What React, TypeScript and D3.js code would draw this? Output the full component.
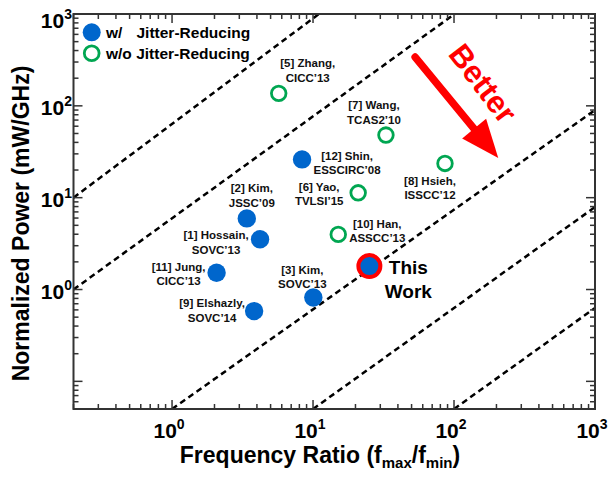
import React from 'react';
import * as d3 from 'd3';

// ---------- data ----------
const refNames = ['[1] Hossain,', '[2] Kim,', '[3] Kim,', '[5] Zhang,', '[6] Yao,', '[7] Wang,', '[8] Hsieh,', '[9] Elshazly,', '[10] Han,', '[11] Jung,', '[12] Shin,', 'This'];
const venues = ['SOVC’13', 'JSSC’09', 'SOVC’13', 'CICC’13', 'TVLSI’15', 'TCAS2’10', 'ISSCC’12', 'SOVC’14', 'ASSCC’13', 'CICC’13', 'ESSCIRC’08', 'Work'];
const freqRatio = [4.21, 3.39, 10.05, 5.71, 20.9, 32.9, 86.3, 3.82, 15.1, 2.07, 8.36, 25.1];
const normPower = [3.52, 5.95, 0.82, 136.8, 11.3, 48.1, 23.6, 0.582, 3.98, 1.52, 26.1, 1.8];
const jitterReducing = [true, true, true, false, false, false, false, true, false, true, true, true];
const isThisWork = [false, false, false, false, false, false, false, false, false, false, false, true];

// label placement offsets (px, relative to marker)
const labelDx = [-44, 5, -11, 29, -39, -12, -15, -42, 39, -38, 45, 39];
const labelDy = [-4, -30, -28, -30, -6, -30, 17, -8, -11, -6, -4, 1];

// FoM guide lines: [x1, y1, x2, y2] in data units
const guideLines = [
  [0.2, 10, 11, 1000],
  [0.2, 1, 101, 1000],
  [1, 0.05, 1000, 90],
  [10, 0.05, 1000, 7.9],
  [100, 0.05, 1000, 0.63],
];

const xDomain = [0.2, 1000];
const yDomain = [0.05, 1000];
const xTickLabels = [1, 10, 100, 1000];
const yTickLabels = [1, 10, 100, 1000];

const legendLabels = ['w/', 'w/o Jitter-Reducing'];
const arrowFrom = [53, 340];
const arrowTo = [206, 27];
const betterAt = [160, 175];

// ---------- style ----------
const W = 611, H = 478;
const M = { left: 73.5, right: 595, top: 14, bottom: 409 };
const FONT = 'Liberation Sans, Arial, Helvetica, sans-serif';
const BLUE = '#0066CC';
const GREEN = '#00A651';
const RED = '#FF0000';
const AXIS = '#333333';

const isMajor = (t: number) => Math.abs(Math.log10(t) - Math.round(Math.log10(t))) < 1e-6;

export default function App() {
  const x = d3.scaleLog().domain(xDomain).range([M.left, M.right]);
  const y = d3.scaleLog().domain(yDomain).range([M.bottom, M.top]);
  const xt = x.ticks();
  const yt = y.ticks();

  const S = [x(arrowFrom[0]), y(arrowFrom[1])];
  const T = [x(arrowTo[0]), y(arrowTo[1])];
  const dx = T[0] - S[0], dy = T[1] - S[1];
  const len = Math.hypot(dx, dy);
  const ux = dx / len, uy = dy / len;
  const headLen = 38, headHalf = 15.5;
  const B = [T[0] - ux * headLen, T[1] - uy * headLen];
  const head = [
    [T[0], T[1]],
    [B[0] - uy * headHalf, B[1] + ux * headHalf],
    [B[0] + uy * headHalf, B[1] - ux * headHalf],
  ];
  const angle = (Math.atan2(dy, dx) * 180) / Math.PI;

  return (
    <svg width={W} height={H} style={{ position: 'absolute', left: 0, top: 0, background: '#fff' }} fontFamily={FONT} fontWeight="bold">
      <defs>
        <clipPath id="plotClip">
          <rect x={M.left} y={M.top} width={M.right - M.left} height={M.bottom - M.top} />
        </clipPath>
      </defs>
      <rect x={0} y={0} width={W} height={H} fill="#fff" />

      {/* guide lines */}
      <g clipPath="url(#plotClip)">
        {guideLines.map((l, i) => (
          <line key={i} x1={x(l[0])} y1={y(l[1])} x2={x(l[2])} y2={y(l[3])} stroke="#000" strokeWidth={2.5} strokeDasharray="6,4" />
        ))}
      </g>

      {/* ticks */}
      <g stroke={AXIS} strokeWidth={1.5}>
        {xt.map((t, i) => {
          const L = isMajor(t) ? 9 : 5;
          const X = x(t);
          return (
            <g key={'x' + i}>
              <line x1={X} x2={X} y1={M.bottom} y2={M.bottom - L} />
              <line x1={X} x2={X} y1={M.top} y2={M.top + L} />
            </g>
          );
        })}
        {yt.map((t, i) => {
          const L = isMajor(t) ? 9 : 5;
          const Y = y(t);
          return (
            <g key={'y' + i}>
              <line x1={M.left} x2={M.left + L} y1={Y} y2={Y} />
              <line x1={M.right} x2={M.right - L} y1={Y} y2={Y} />
            </g>
          );
        })}
      </g>
      <rect x={M.left} y={M.top} width={M.right - M.left} height={M.bottom - M.top} fill="none" stroke={AXIS} strokeWidth={2} />

      {/* tick labels */}
      {xTickLabels.map((t, i) => (
        <text key={'xl' + i} x={x(t) - 3} y={438} textAnchor="middle" fontSize={21} fill="#000">
          10<tspan dy={-9} fontSize={14}>{Math.round(Math.log10(t))}</tspan>
        </text>
      ))}
      {yTickLabels.map((t, i) => (
        <text key={'yl' + i} x={72} y={Math.max(y(t) + 9.5, 28)} textAnchor="end" fontSize={21} fill="#000">
          10<tspan dy={-9} fontSize={14}>{Math.round(Math.log10(t))}</tspan>
        </text>
      ))}

      {/* axis titles */}
      <text x={320} y={463} textAnchor="middle" fontSize={23} fill="#000">
        Frequency Ratio (f<tspan fontSize={15} dy={5}>max</tspan><tspan dy={-5}>/f</tspan><tspan fontSize={15} dy={5}>min</tspan><tspan dy={-5}>)</tspan>
      </text>
      <text transform={`translate(29,${(62 + 385) / 2}) rotate(-90)`} textAnchor="middle" fontSize={23} fill="#000">
        Normalized Power (mW/GHz)
      </text>

      {/* legend */}
      <circle cx={91.7} cy={32.3} r={9} fill={BLUE} />
      <circle cx={91.7} cy={53.3} r={7.4} fill="#fff" stroke={GREEN} strokeWidth={2.8} />
      <text x={106} y={37.5} fontSize={15.5} fill="#000">{legendLabels[0]}</text>
      <text x={136.5} y={37.5} fontSize={15.5} fill="#000">Jitter-Reducing</text>
      <text x={106} y={58.5} fontSize={15.5} fill="#000">{legendLabels[1]}</text>

      {/* markers */}
      {freqRatio.map((f, i) => {
        const cx = x(f), cy = y(normPower[i]);
        if (isThisWork[i]) return <circle key={'m' + i} cx={cx} cy={cy} r={11} fill={BLUE} stroke={RED} strokeWidth={4} />;
        return jitterReducing[i] ? (
          <circle key={'m' + i} cx={cx} cy={cy} r={9.2} fill={BLUE} />
        ) : (
          <circle key={'m' + i} cx={cx} cy={cy} r={7.3} fill="#fff" stroke={GREEN} strokeWidth={2.8} />
        );
      })}

      {/* point labels */}
      {freqRatio.map((f, i) => {
        const cx = x(f) + labelDx[i], cy = y(normPower[i]) + labelDy[i];
        if (isThisWork[i]) {
          return (
            <g key={'t' + i} fontSize={19} fill="#000">
              <text x={cx} y={cy + 6.8} textAnchor="middle">{refNames[i]}</text>
              <text x={cx} y={cy + 6.8 + 24} textAnchor="middle">{venues[i]}</text>
            </g>
          );
        }
        return (
          <g key={'t' + i} fontSize={11.5} fill="#111">
            <text x={cx} y={cy + 4.1} textAnchor="middle">{refNames[i]}</text>
            <text x={cx} y={cy + 4.1 + 14.5} textAnchor="middle">{venues[i]}</text>
          </g>
        );
      })}

      {/* Better arrow */}
      <line x1={S[0]} y1={S[1]} x2={B[0] + ux * 2} y2={B[1] + uy * 2} stroke={RED} strokeWidth={7.5} strokeLinecap="round" />
      <polygon points={head.map((p) => p.join(',')).join(' ')} fill={RED} />
      <text
        transform={`translate(${x(betterAt[0])},${y(betterAt[1])}) rotate(${angle + 2})`}
        textAnchor="middle"
        dominantBaseline="central"
        fontSize={31}
        fill={RED}
      >
        Better
      </text>
    </svg>
  );
}
